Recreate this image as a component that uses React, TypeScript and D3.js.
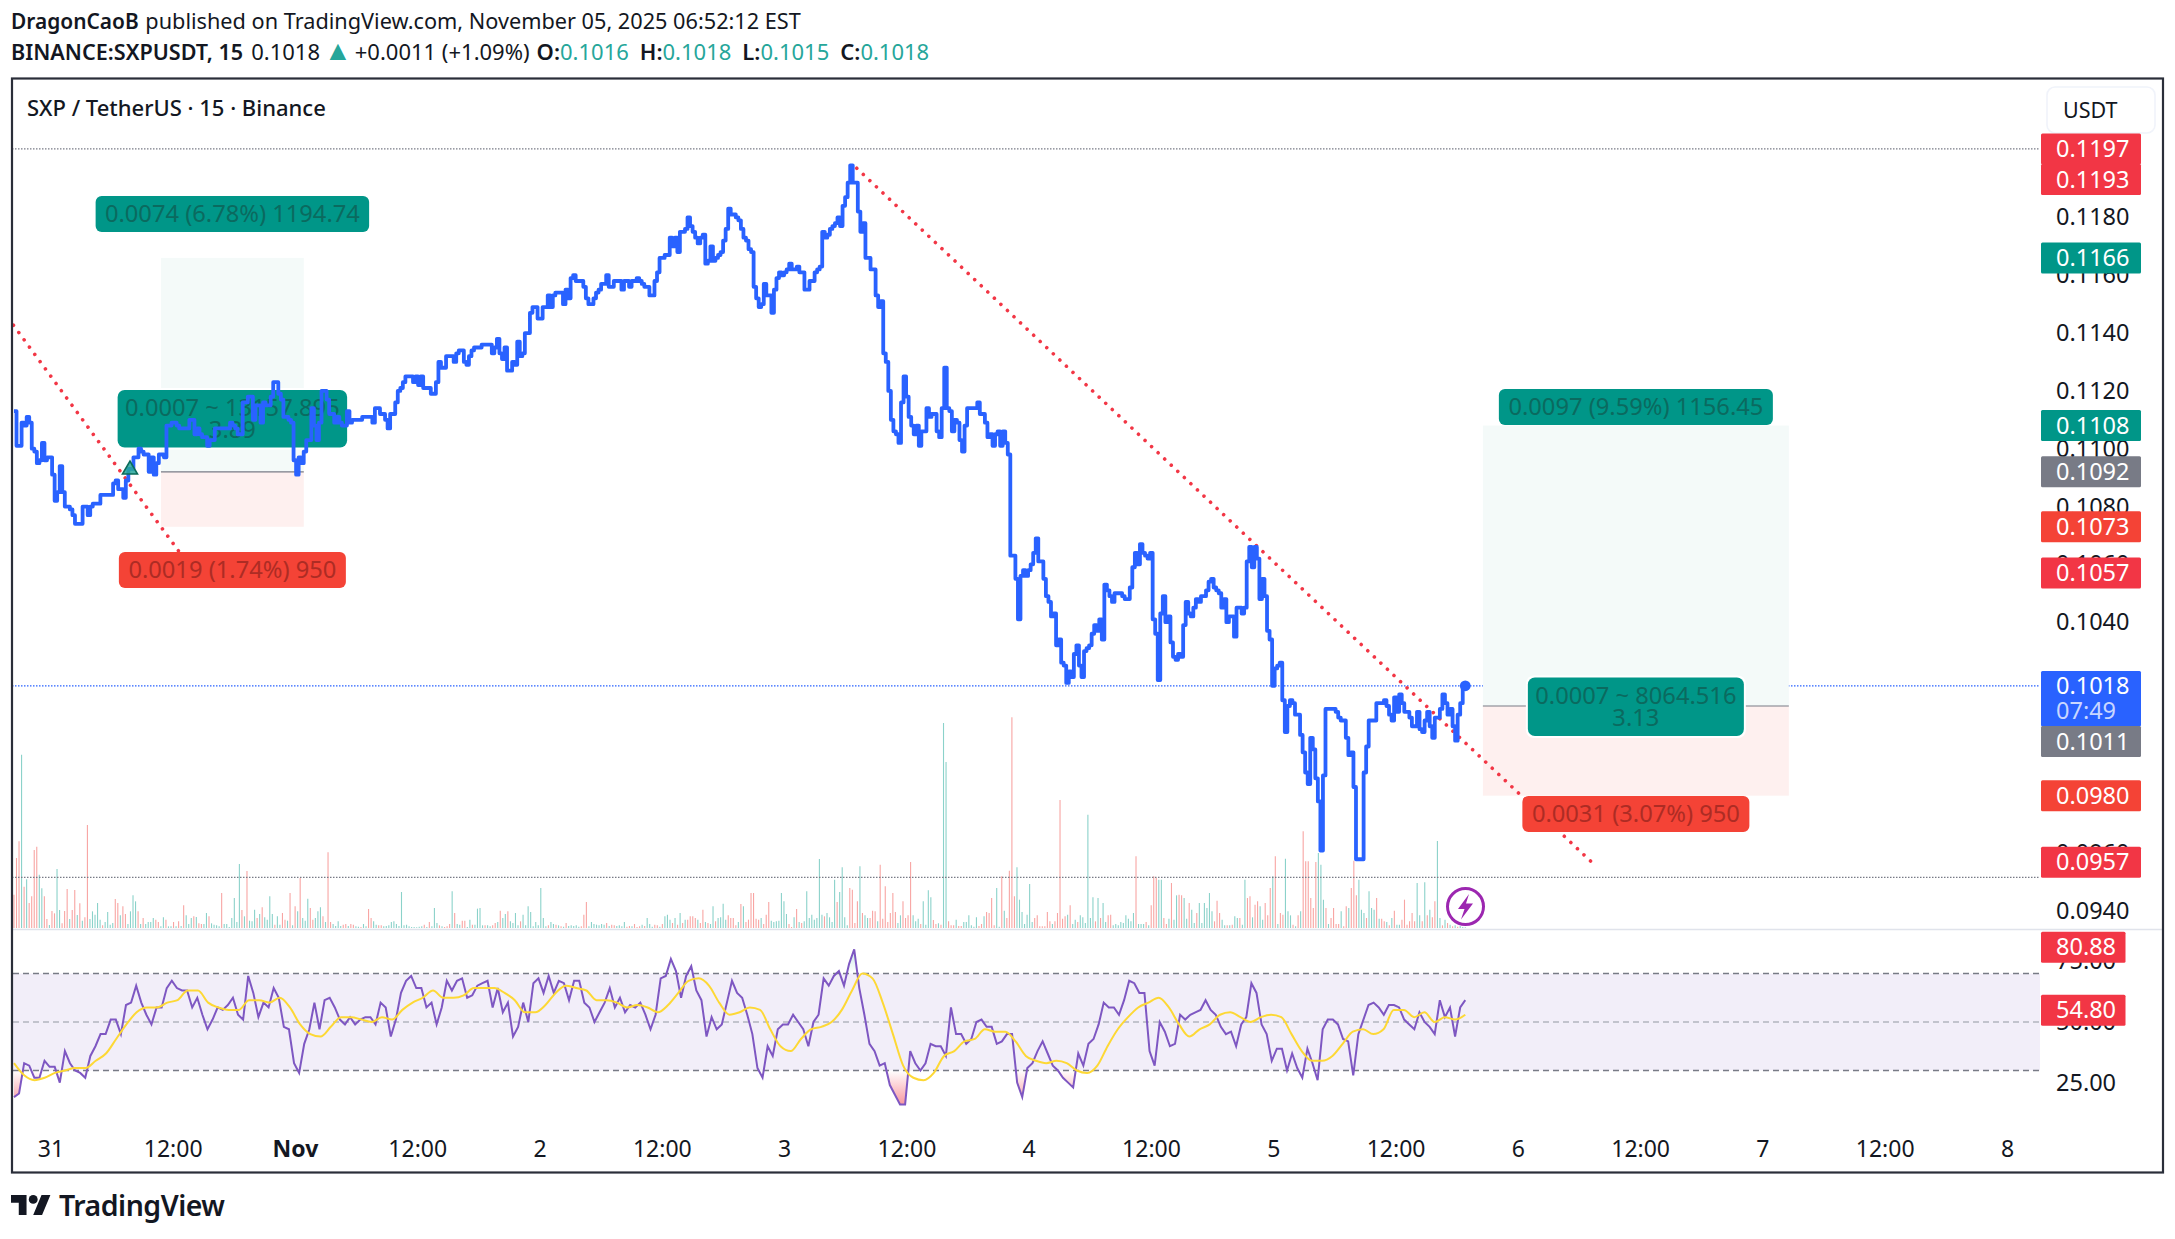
import React from "react";
import * as d3 from "d3";

// ---------- data ----------
const closeTicks = [
1113,1101,1101,1109,1108,1111,1109,1100,1099,
1095,1096,1102,1096,1097,1097,1091,1082,1085,1094,
1085,1080,1080,1079,1077,1074,1074,1074,1080,1080,
1077,1080,1081,1081,1081,1084,1084,1084,1084,1084,1088,1089,1086,
1086,1083,1089,1093,1093,1097,1097,1100,1099,1098,
1098,1092,1097,1091,1095,1098,1098,1097,1108,1108,
1109,1109,1108,1107,1107,1107,1107,1110,1110,1105,
1107,1105,1104,1104,1101,1103,1103,1107,1107,1107,
1107,1107,1107,1109,1108,1107,1105,1105,1116,1116,
1118,1118,1110,1115,1115,1109,1116,1115,1115,1118,
1123,1123,1119,1117,1111,1111,1110,1109,1096,1091,1097,1095,1099,1103,1103,
1114,1108,1103,1109,1120,1120,1117,1112,1112,1109,1111,1109,1108,1108,1113,
// second stretch
1109,1110,1110,1110,1110,1111,1111,1111,1111,1109,1114,1114,1112,1112,1110,1107,1112,1112,1116,1120,
1121,1123,1125,1125,1125,1123,1125,1122,1125,1121,1121,1121,1119,1119,1123,1130,1128,1128,1132,1132,
1132,1130,1133,1134,1134,1130,1129,1132,1134,1135,1135,1135,1136,1136,1136,1136,1133,1135,1138,1133,
1131,1135,1127,1127,1130,1129,1137,1132,1133,1140,1140,1147,1149,1149,1145,1145,1149,1149,1153,1149,
1153,1154,1154,1154,1150,1155,1152,1159,1160,1158,1158,1158,1156,1152,1150,1150,1152,1154,1155,1157,
1157,1160,1156,1156,1158,1158,1158,1155,1158,1158,1156,1158,1158,1159,1158,1157,1156,1156,1153,1153,1158,
1161,1166,1166,1167,1167,1173,1170,1173,1168,1175,1175,1176,1180,
// third stretch
1177,1175,1173,1171,1173,1174,1164,1165,1170,1165,1166,1167,1168,1172,1176,1183,1181,1181,1180,1179,
1176,1173,1172,1169,1168,1156,1152,1149,1150,1157,1153,1153,1147,1155,1159,1161,1160,1161,1162,1164,
1162,1162,1163,1161,1161,1155,1155,1158,1158,1161,1162,1163,1175,1173,1174,1176,1177,1178,1180,1177,
1184,1187,1192,1198,1192,1192,1182,1175,1178,1166,1166,1162,1162,1153,1149,1151,1133,1130,1120,1110,
1106,1105,1102,1116,1125,1118,1111,1108,1105,1108,1101,1106,1106,1114,1111,1112,1112,1106,1104,1114,
1128,1114,1113,1106,1110,1109,1103,1099,1108,1114,1114,1114,1114,1116,1112,1112,1109,1104,1105,1101,1105,
1106,1101,1106,1102,1098,
// fourth stretch
1063,1063,1055,1041,1056,1058,1056,1058,1060,1064,1069,1061,1061,1055,1049,1047,1042,1043,1032,1034,
1026,1025,1019,1023,1021,1029,1032,1025,1021,1030,1031,1032,1036,1039,1037,1041,1034,1053,1051,1049,
1047,1050,1050,1050,1049,1048,1048,1052,1059,1064,1060,1067,1064,1063,1062,1064,1041,1036,1020,1043,
1049,1040,1042,1033,1028,1027,1029,1028,1039,1047,1043,1042,1045,1048,1047,1049,1049,1051,1054,1055,
1052,1051,1050,1045,1048,1040,1042,1042,1035,1045,1045,1043,1045,1061,1066,1059,1066,1062,1048,1055,
1049,1037,1034,1018,1024,1025,1026,1013,
// fifth stretch
1002,1011,1013,1012,1008,1008,1001,995,988,984,1000,996,986,978,961,987,1010,1010,1010,1010,
1009,1007,1006,1006,1000,994,995,983,958,958,958,988,997,1006,1006,1006,1012,1012,1012,1013,1011,1008,
1006,1014,1009,1015,1012,1009,1009,1007,1004,1004,1009,1003,1002,1006,1009,1004,1000,1007,1007,1010,
1015,1012,1008,1010,1004,999,1008,1012,1018,1018,
];

const volumes = [
-100,-210,-260,520,-124,146,-75,-95,-234,-244,160,119,-95,-27,9,-51,-44,177,54,-14,-51,-117,27,-54,-114,39,-74,22,-32,-309,27,50,40,75,25,-8,18,48,10,15,-87,-75,38,-65,-42,12,50,98,80,-50,
12,-30,12,18,18,30,-25,-18,5,32,-25,5,5,-18,5,-20,6,-68,38,12,30,-35,33,-14,-12,12,45,-35,14,10,8,5,-105,12,12,3,30,90,18,192,-54,35,-171,22,20,55,-30,42,-62,32,
25,95,42,-10,35,10,-45,-25,22,-105,8,-65,50,-150,30,22,88,-60,-25,30,50,62,-35,18,-227,-18,12,6,20,6,-10,-12,6,-12,-10,5,4,-3,12,5,-57,-30,20,10,-8,-8,5,6,8,18,
20,12,6,108,8,10,5,3,3,2,4,5,-10,3,-18,5,60,15,-8,5,-3,-5,-12,110,-45,12,10,-22,-22,3,25,-10,10,58,60,8,-8,8,5,-8,-15,18,-52,30,42,-50,20,15,45,8,
-20,40,8,65,48,5,18,8,120,30,5,-8,18,12,-10,8,-5,4,-15,6,8,6,8,4,-5,-40,-78,5,18,12,10,8,12,10,-15,6,-10,-8,6,8,5,18,-4,-6,5,-12,-3,-5,10,-6,
30,12,4,-10,-8,4,-12,35,40,25,-15,30,-10,45,-15,25,-25,-35,-35,-30,25,-15,-55,18,-15,12,65,-20,30,
32,73,25,-38,-30,-30,-8,18,-72,65,-18,-25,-105,-105,-28,-25,30,-12,-40,-78,22,18,20,22,105,80,42,-12,-3,32,-57,18,-15,20,110,30,40,25,30,207,40,-35,45,32,18,145,-78,108,182,32,
8,-120,-115,-15,-80,185,-45,38,30,-30,-52,-50,20,-190,-28,-125,-18,-45,-105,-48,15,38,-80,-30,-38,-198,38,20,28,-12,80,10,113,92,-24,-12,14,-10,615,498,-20,-8,-8,25,-6,-6,18,18,38,8,4,32,
-6,-12,35,-48,-45,-90,-8,120,4,-155,52,-30,-172,-632,-95,182,85,48,12,40,132,18,-30,-38,-5,-5,-5,-48,-20,12,-20,-45,-384,-28,-35,40,-68,12,25,-18,38,32,15,340,30,92,-20,90,-30,75,
18,-38,-40,8,12,8,18,15,38,28,20,45,-215,12,12,12,-18,8,-68,-155,-150,145,145,-30,-12,28,-135,25,98,-100,-98,90,28,-75,55,15,-45,75,15,75,60,105,50,-20,-82,-45,25,8,-8,8,
-10,35,30,-30,10,145,-90,-95,32,-70,-80,65,25,-75,-38,-120,155,-215,12,-45,-40,208,50,38,-10,5,-38,50,-290,-200,-200,-90,-60,-198,225,190,85,-60,12,-30,-60,-12,-12,50,-5,-65,60,-120,-202,-98,
145,55,45,-30,110,60,55,-90,28,-28,-20,18,-8,30,-52,10,10,-25,-85,-10,-20,-45,-20,135,38,-20,137,-38,55,-32,-80,261,30,-8,25,-15,10,-5,8,-4,6,3,2,
];

const rsiValues = [
19,20.5,33,32,27,27,34,31.5,31.5,25,
38,33,30,29,27,36,40,45,45,
51,51,45,57,58,65,58,53,49,56,
56,64,67,64,63,63,56,60,53,47,
51,56,55,57,60,53,51,69,62,52,
58,56,64,60,48,47,33,29,41,
47,58,47,59,60,56,51,49,52,49,
51,52,52,49,58,56,44,51,62,67,
69,64,64,56,58,49,56,67,63,
67,68,60,61,65,66,67,56,64,54,
58,44,48,58,50,66,68,62,69,62,
67,66,59,67,67,58,56,50,54,58,
64,56,60,54,57,56,58,53,47,53,
68,69,76,71,60,69,73,63,59,44,52,47,49,
58,67,62,60,53,45,31,27,40,36,47,49,49,53,50,47,40,50,53,68,65,69,71,65,74,80,
64,53,41,38,32,33,24,20,16,16,38,33,30,33,41,40,40,36,56,45,45,41,43,50,51,48,48,41,42,45,45,25,19,31,33,38,42,37,32,30,27,25,23,37,32,41,43,49,58,56,56,53,59,67,66,62,62,38,32,50,46,40,41,53,51,53,54,55,59,55,53,48,45,46,40,49,52,66,62,49,45,34,39,39,30,37,31,27,39,33,26,47,51,51,49,43,42,28,45,51,57,58,56,53,57,57,56,51,49,47,54,
50,48,45,59,52,56,44,56,59,
];

const maValues = [
33,28,26,27,29,30,31,31,34,37,43,49,54,56,56,58,59,63,63,58,56,55,55,59,59,58,60,56,49,45,44,48,52,52,51,50,52,51,55,58,60,63,60,60,61,64,64,64,62,59,54,54,57,62,65,64,63,59,59,58,56,57,56,54,57,62,67,68,65,58,
53,54,56,55,47,40,38,43,47,48,50,55,63,70,68,58,45,32,27,26,29,36,38,42,43,47,46,46,42,36,34,33,34,33,30,29,32,40,47,52,56,58,60,56,49,44,47,49,53,54,52,50,52,53,52,45,38,34,34,36,41,46,47,45,47,55,55,52,
54,50,52,51,53,
];

const priceTickLabels = [0.118,0.116,0.114,0.112,0.11,0.108,0.106,0.104,0.102,0.1,0.098,0.096,0.094];
const rsiTickLabels = [75,50,25];
const timeTicks: [number,string,boolean][] = [[0,"31",false],[0.5,"12:00",false],[1,"Nov",true],[1.5,"12:00",false],[2,"2",false],[2.5,"12:00",false],[3,"3",false],[3.5,"12:00",false],[4,"4",false],[4.5,"12:00",false],[5,"5",false],[5.5,"12:00",false],[6,"6",false],[6.5,"12:00",false],[7,"7",false],[7.5,"12:00",false],[8,"8",false]];
const priceBadges: [string,number,string][] = [
  ["0.1197",0.12037,"#f23645"],["0.1193",0.1193,"#f23645"],["0.1166",0.1166,"#009688"],["0.1108",0.1108,"#009688"],
  ["0.1092",0.1092,"#787b86"],["0.1073",0.1073,"#f44336"],["0.1057",0.1057,"#f23645"],["0.0980",0.098,"#f44336"],["0.0957",0.0957,"#f23645"],
];
const rangeLevels = [0.12037,0.09517];
const lastPrice = 0.1018;
const leftTool = {from:0.45,to:1.034,entry:0.1092,target:0.1166,stop:0.1073,top:"0.0074 (6.78%) 1194.74",mid:["0.0007 ~ 13157.895","3.89"],bottom:"0.0019 (1.74%) 950"};
const rightTool = {from:5.855,to:7.106,entry:0.1011,target:0.1108,stop:0.098,top:"0.0097 (9.59%) 1156.45",mid:["0.0007 ~ 8064.516","3.13"],bottom:"0.0031 (3.07%) 950"};
const trendLines: [number,number,number,number][] = [[-0.588,0.1193,0.588,0.1057],[3.295,0.1197,6.3,0.0957]];

// ---------- scales ----------
const W = 2175, H = 1239;
const FL = 12, FR = 2163, FT = 78.5, FB = 1172.5, AX = 2040, PANE = 929.5;
const FONT = "'Noto Sans', sans-serif";
const x = d3.scaleLinear().domain([0,8]).range([50.9,2007.5]);
const y = d3.scaleLinear().domain([0.094,0.118]).range([911.3,217.4]);
const yr = d3.scaleLinear().domain([25,75]).range([1082.6,961.4]);
const yv = d3.scaleLinear().domain([0,300]).range([928,828]);
const D0 = -0.151, D1 = 5.783;
const dayAt = (i:number,n:number) => D0 + (D1-D0)*i/(n-1);
const px = (i:number,n:number) => x(dayAt(i,n));

const closes = closeTicks.map(t=>t/10000);
const pricePath = d3.line<number>().x((_,i)=>px(i,closes.length)).y(d=>y(d)).curve(d3.curveStepAfter)(closes)!;
const rsiPath = d3.line<number>().x((_,i)=>px(i,rsiValues.length)).y(d=>yr(d))(rsiValues)!;
const maPath = d3.line<number>().x((_,i)=>px(i,maValues.length)).y(d=>yr(d)).curve(d3.curveMonotoneX)(maValues)!;
const rsiLow = d3.area<number>().x((_,i)=>px(i,rsiValues.length)).y0(yr(30)).y1(d=>yr(d))(rsiValues)!;
const rsiHigh = d3.area<number>().x((_,i)=>px(i,rsiValues.length)).y0(yr(70)).y1(d=>yr(d))(rsiValues)!;

function Tool({t}:{t:typeof leftTool}){
  const x0=x(t.from),x1=x(t.to),ye=y(t.entry),yt=y(t.target),ys=y(t.stop);
  return <g>
    <rect x={x0} y={yt} width={x1-x0} height={ye-yt} fill="#f4faf9"/>
    <rect x={x0} y={ye} width={x1-x0} height={ys-ye} fill="#fef0ef"/>
    <line x1={x0} x2={x1} y1={ye} y2={ye} stroke="#787b86" strokeWidth={1.2}/>
  </g>;
}
function ToolLabels({t,wTop,wMid,wBot,midH}:{t:typeof leftTool,wTop:number,wMid:number,wBot:number,midH:number}){
  const x0=x(t.from),x1=x(t.to),cx=(x0+x1)/2;
  const isLeft=t===leftTool;
  const topY=isLeft?196:389, botY=isLeft?552:796;
  const midY=isLeft?390:677.5;
  const g="#009688", r="#f44336", tg="#0b6a5f", tr="#ad2c24";
  return <g fontFamily={FONT} fontSize={23.7} textAnchor="middle">
    <rect x={cx-wTop/2} y={topY} width={wTop} height={36} rx={6} fill={g}/>
    <text x={cx} y={topY+26} fill={tg}>{t.top}</text>
    <rect x={cx-wMid/2-2} y={midY-2} width={wMid+4} height={midH+4} rx={8} fill="#fff"/>
    <rect x={cx-wMid/2} y={midY} width={wMid} height={midH} rx={7} fill={g}/>
    <text x={cx} y={midY+26} fill={tg}>{t.mid[0]}</text>
    <text x={cx} y={midY+48} fill={tg}>{t.mid[1]}</text>
    <rect x={cx-wBot/2} y={botY} width={wBot} height={36} rx={6} fill={r}/>
    <text x={cx} y={botY+26} fill={tr}>{t.bottom}</text>
  </g>;
}
function Badge({label,cy,fill,w=100,h=31}:{label:string,cy:number,fill:string,w?:number,h?:number}){
  return <g>
    <rect x={2041} y={cy-h/2} width={w} height={h} rx={1.5} fill={fill}/>
    <text x={2056} y={cy+8} fontSize={23.5} fill="#fff" fontFamily={FONT}>{label}</text>
  </g>;
}

export default function App(){
  const badgeY=(v:number)=>v===0.1193?179.5:y(v);
  return (
    <svg width={W} height={H} viewBox={`0 0 ${W} ${H}`} style={{position:"absolute",left:0,top:0,background:"#fff"}}>
      <defs>
        <clipPath id="plot"><rect x={FL+1} y={FT} width={AX-FL-1} height={PANE-FT}/></clipPath>
        <clipPath id="below"><rect x={FL+1} y={yr(30)} width={AX-FL-1} height={100}/></clipPath>
        <clipPath id="above"><rect x={FL+1} y={yr(90)} width={AX-FL-1} height={yr(70)-yr(90)}/></clipPath>
        <linearGradient id="gradLow" gradientUnits="userSpaceOnUse" x1={0} x2={0} y1={yr(30)} y2={yr(15)}>
          <stop offset="0" stopColor="#f23645" stopOpacity={0}/><stop offset="1" stopColor="#f23645" stopOpacity={0.55}/>
        </linearGradient>
        <linearGradient id="gradHigh" gradientUnits="userSpaceOnUse" x1={0} x2={0} y1={yr(70)} y2={yr(82)}>
          <stop offset="0" stopColor="#26a69a" stopOpacity={0}/><stop offset="1" stopColor="#26a69a" stopOpacity={0.3}/>
        </linearGradient>
      </defs>
      {/* header */}
      <g fontFamily={FONT} fill="#131722">
        <text x={11} y={29} fontSize={21.7}><tspan fontWeight={600} fontSize={20.9}>DragonCaoB</tspan><tspan dx={1}> published on TradingView.com, November 05, 2025 06:52:12 EST</tspan></text>
        <text x={11} y={60} fontSize={22}>
          <tspan fontWeight={600} fontSize={21.6}>BINANCE:SXPUSDT, 15</tspan><tspan dx={8}>0.1018</tspan>
          <tspan dx={4} fill="#26a69a" fontSize={28}>▲</tspan><tspan dx={3}>+0.0011 (+1.09%)</tspan>
          <tspan dx={7} fontWeight={600}>O:</tspan><tspan fill="#26a69a">0.1016</tspan>
          <tspan dx={11} fontWeight={600}>H:</tspan><tspan fill="#26a69a">0.1018</tspan>
          <tspan dx={11} fontWeight={600}>L:</tspan><tspan fill="#26a69a">0.1015</tspan>
          <tspan dx={11} fontWeight={600}>C:</tspan><tspan fill="#26a69a">0.1018</tspan>
        </text>
      </g>
      {/* volumes */}
      <g>
        {volumes.map((v,i)=>{
          const X=px(i,volumes.length);
          return <line key={i} x1={X} x2={X} y1={yv(0)} y2={yv(Math.abs(v))} stroke={v>=0?"#8bd2ca":"#f8a5a3"} strokeWidth={1.1}/>;
        })}
      </g>
      <g clipPath="url(#plot)">
        {rangeLevels.map(l=><line key={l} x1={FL} x2={AX} y1={y(l)} y2={y(l)} stroke="#787b86" strokeWidth={1.2} strokeDasharray="1.5 1.5"/>)}
        <line x1={FL} x2={AX} y1={y(lastPrice)} y2={y(lastPrice)} stroke="#2962ff" strokeWidth={1.2} strokeDasharray="1.5 1.5"/>
        <Tool t={leftTool}/>
        <Tool t={rightTool}/>
        {trendLines.map((t,i)=><line key={i} x1={x(t[0])} y1={y(t[1])} x2={x(t[2])} y2={y(t[3])} stroke="#f23645" strokeWidth={3.6} strokeLinecap="round" strokeDasharray="0.01 9"/>)}
        <ToolLabels t={leftTool} wTop={273.5} wMid={229.5} wBot={227}  midH={57.5}/>
        <ToolLabels t={rightTool} wTop={274} wMid={216} wBot={227} midH={58.5}/>
        <path d={pricePath} fill="none" stroke="#2962ff" strokeWidth={3.8} strokeLinejoin="round"/>
        <path d="M122.5 474 L130 461 L137.5 474 Z" fill="#26a69a" fillOpacity={0.85} stroke="#0a6b5a" strokeWidth={1.6}/>
        <circle cx={px(closes.length-1,closes.length)} cy={y(lastPrice)} r={5.4} fill="#2962ff"/>
        <circle cx={1465.5} cy={906.6} r={18} fill="#fff" stroke="#9c27b0" strokeWidth={3}/>
        <path d="M1469 894 L1458 909 L1464.5 909 L1461 919.5 L1473 903.5 L1466 903.5 Z" fill="#9c27b0"/>
      </g>
      {/* title */}
      <text x={27} y={116} fontFamily={FONT} fontSize={22} fontWeight={500} fill="#131722">SXP / TetherUS · 15 · Binance</text>
      <rect x={2047} y={87} width={108} height={46} rx={8} fill="#fff" stroke="#f0f3fa" strokeWidth={1.6}/>
      <text x={2063} y={118} fontFamily={FONT} fontSize={21.5} fill="#131722">USDT</text>
      {/* price axis */}
      <g fontFamily={FONT} fontSize={23.5} fill="#131722">
        {priceTickLabels.map(v=><text key={v} x={2056} y={y(v)+8}>{d3.format(".4f")(v)}</text>)}
      </g>
      {priceBadges.map(b=><Badge key={b[0]} label={b[0]} cy={badgeY(b[1])} fill={b[2]}/>)}
      <rect x={2041} y={671} width={100} height={55.5} rx={1.5} fill="#2962ff"/>
      <text x={2056} y={694} fontSize={23.5} fontFamily={FONT} fill="#fff">0.1018</text>
      <text x={2056} y={719} fontSize={23.5} fontFamily={FONT} fill="#fff" fillOpacity={0.75}>07:49</text>
      <Badge label="0.1011" cy={741.5} fill="#787b86"/>
      {/* pane separator */}
      <line x1={FL} x2={FR} y1={PANE} y2={PANE} stroke="#e0e3eb" strokeWidth={1.5}/>
      {/* RSI pane */}
      <rect x={FL+1} y={yr(70)} width={AX-FL-1} height={yr(30)-yr(70)} fill="#7e57c2" fillOpacity={0.1}/>
      {[70,50,30].map(l=><line key={l} x1={FL+1} x2={AX} y1={yr(l)} y2={yr(l)} stroke={l===50?"#b2b5be":"#787b86"} strokeWidth={1.3} strokeDasharray="6 4"/>)}
      <path d={rsiLow} fill="url(#gradLow)" clipPath="url(#below)"/>
      <path d={rsiHigh} fill="url(#gradHigh)" clipPath="url(#above)"/>
      <path d={rsiPath} fill="none" stroke="#7e57c2" strokeWidth={2}/>
      <path d={maPath} fill="none" stroke="#fdd835" strokeWidth={2}/>
      <g fontFamily={FONT} fontSize={23.5} fill="#131722">
        {rsiTickLabels.map(v=><text key={v} x={2056} y={yr(v)+8}>{d3.format(".2f")(v)}</text>)}
      </g>
      <Badge label="80.88" cy={yr(80.88)} fill="#f23645" w={84.5}/>
      <Badge label="54.80" cy={yr(54.8)} fill="#f23645" w={84.5}/>
      {/* time axis */}
      <g fontFamily={FONT} fontSize={23} fill="#131722" textAnchor="middle">
        {timeTicks.map(t=><text key={t[0]} x={x(t[0])} y={1157} fontWeight={t[2]?700:400}>{t[1]}</text>)}
      </g>
      {/* frame */}
      <rect x={FL} y={FT} width={FR-FL} height={FB-FT} fill="none" stroke="#2a2e39" strokeWidth={2.2}/>
      {/* logo */}
      <g transform="translate(11,1190.5) scale(1.11)" fill="#131722">
        <path d="M14 22H7V11H0V4h14v18zM28 22h-8l7.5-18h8L28 22z"/><circle cx={20} cy={8} r={4}/>
      </g>
      <text x={59} y={1216} fontFamily={FONT} fontSize={28.5} fontWeight={600} fill="#131722" letterSpacing={-0.5}>TradingView</text>
    </svg>
  );
}
